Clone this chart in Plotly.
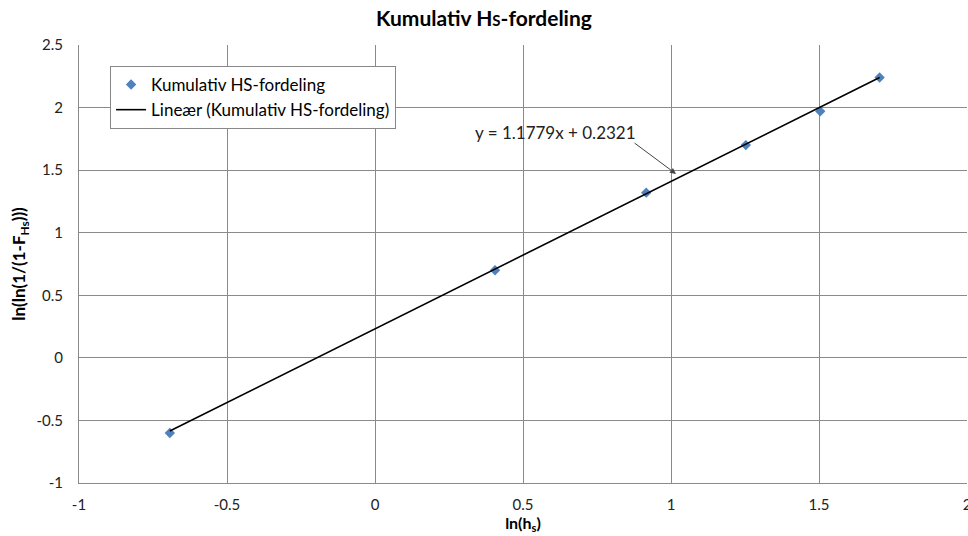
import numpy as np
import plotly.graph_objects as go

# Significant wave height class midpoints and cumulative distribution values
hs = [0.5, 1.5, 2.5, 3.5, 4.5, 5.5]
ln_hs = list(np.log(hs))
ln_ln = [-0.60, 0.70, 1.32, 1.70, 1.97, 2.24]

# Linear trendline coefficients
slope = 1.1779
intercept = 0.2321
fit_x = [min(ln_hs), max(ln_hs)]
fit_y = [slope * v + intercept for v in fit_x]

x_ticks = [-1, -0.5, 0, 0.5, 1, 1.5, 2]
y_ticks = [-1, -0.5, 0, 0.5, 1, 1.5, 2, 2.5]

FONT = "Lato"
grid = "#8a8a8a"

fig = go.Figure()
fig.add_trace(go.Scatter(
    x=ln_hs, y=ln_ln, mode="markers", name="Kumulativ HS-fordeling",
    marker=dict(symbol="diamond", size=8, color="#4F81BD"),
))
fig.add_trace(go.Scatter(
    x=fit_x, y=fit_y, mode="lines", name="Lineær (Kumulativ HS-fordeling)",
    line=dict(color="black", width=1.6),
))

# Trendline equation label with a pointer arrow
fig.add_annotation(
    x=0.61, y=1.80, xref="x", yref="y", showarrow=False,
    text=f"y = {slope}x + {intercept}",
    font=dict(family=FONT, size=17, color="#222"),
)
fig.add_annotation(
    x=1.017, y=1.47, xref="x", yref="y", ax=0.872, ay=1.725,
    axref="x", ayref="y", text="", showarrow=True,
    arrowhead=2, arrowsize=1.2, arrowwidth=1, arrowcolor="#444",
)

fig.update_layout(
    width=968, height=536,
    paper_bgcolor="white", plot_bgcolor="white",
    margin=dict(l=79, r=1, t=45, b=53, autoexpand=False),
    title=dict(
        text="<b>Kumulativ H<span style='font-size:15px'>S</span>-fordeling</b>",
        x=0.5, xanchor="center", y=0.966, yanchor="middle",
        font=dict(family=FONT, size=21, color="black"),
    ),
    font=dict(family=FONT, size=15, color="#222"),
    showlegend=True,
    legend=dict(
        x=0.035, y=0.952, xanchor="left", yanchor="top",
        bgcolor="white", bordercolor="#888", borderwidth=1,
        font=dict(family=FONT, size=17, color="black"),
        tracegroupgap=0,
    ),
    xaxis=dict(
        range=[-1, 2], tickvals=x_ticks, ticktext=[f"{v:g}" for v in x_ticks],
        showgrid=True, gridcolor=grid, gridwidth=1, automargin=False,
        zeroline=False, showline=True, linecolor=grid, mirror=False,
        ticks="", ticklabelstandoff=8, ticklabeloverflow="allow",
        tickfont=dict(family=FONT, size=15, color="#222"),
        title=dict(text="<b>ln(h<sub>s</sub>)</b>", standoff=4,
                   font=dict(family=FONT, size=16, color="black")),
    ),
    yaxis=dict(
        range=[-1, 2.5], tickvals=y_ticks, ticktext=[f"{v:g}" for v in y_ticks],
        showgrid=True, gridcolor=grid, gridwidth=1, automargin=False,
        zeroline=False, showline=True, linecolor=grid,
        ticks="", ticklabelstandoff=12,
        tickfont=dict(family=FONT, size=15, color="#222"),
        title=dict(text="<b>ln(ln(1/(1-F<sub>Hs</sub>)))</b>", standoff=6,
                   font=dict(family=FONT, size=17, color="black")),
    ),
)

fig.write_html("out.html")
